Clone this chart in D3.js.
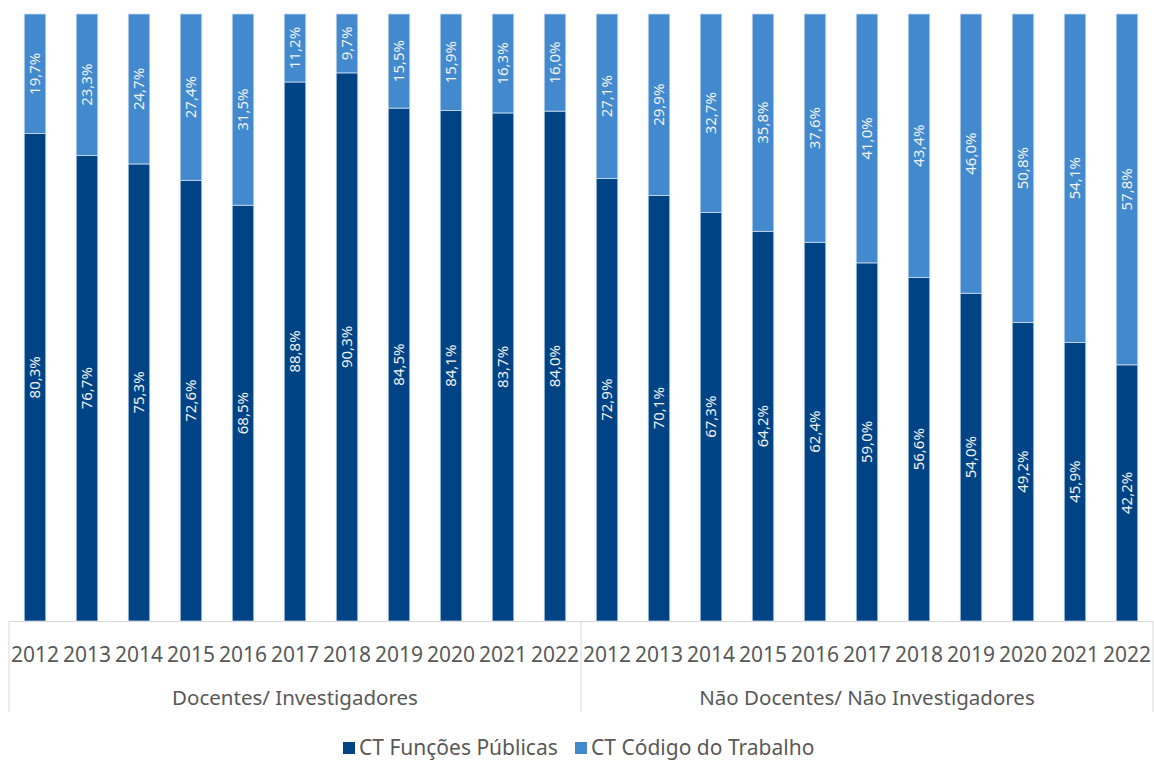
<!DOCTYPE html>
<html>
<head>
<meta charset="utf-8">
<script src="https://cdn.jsdelivr.net/npm/d3@7"></script>
<style>
  body { margin: 0; background: #fff; }
  svg { display: block; font-family: 'Noto Sans', sans-serif; }
</style>
</head>
<body>
<script>
// data
var years = ['2012', '2013', '2014', '2015', '2016', '2017', '2018', '2019', '2020', '2021', '2022']
var groups = ['Docentes/ Investigadores', 'Não Docentes/ Não Investigadores']
var seriesNames = ['CT Funções Públicas', 'CT Código do Trabalho']
var funcoesPublicas = [80.3, 76.7, 75.3, 72.6, 68.5, 88.8, 90.3, 84.5, 84.1, 83.7, 84.0,
  72.9, 70.1, 67.3, 64.2, 62.4, 59.0, 56.6, 54.0, 49.2, 45.9, 42.2]
var codigoTrabalho = [19.7, 23.3, 24.7, 27.4, 31.5, 11.2, 9.7, 15.5, 15.9, 16.3, 16.0,
  27.1, 29.9, 32.7, 35.8, 37.6, 41.0, 43.4, 46.0, 50.8, 54.1, 57.8]

var colors = ['#004485', '#4389cd']

var W = 1154
var H = 761
var plotLeft = 9
var plotRight = 1153
var plotTop = 14
var plotBottom = 621

// one row per bar
var rows = []
groups.forEach(function (g, gi) {
  years.forEach(function (yr, yi) {
    var i = gi * years.length + yi
    rows.push({ key: g + '|' + yr, group: g, year: yr, fp: funcoesPublicas[i], ct: codigoTrabalho[i] })
  })
})

var x = d3.scaleBand()
  .domain(rows.map(function (d) { return d.key }))
  .range([plotLeft, plotRight])
  .paddingInner(0.585)
  .paddingOuter(0.2925)

var y = d3.scaleLinear().domain([0, 100]).range([plotBottom, plotTop])

var svg = d3.select('body').append('svg')
  .attr('width', W)
  .attr('height', H)

var stack = d3.stack().keys(['fp', 'ct'])(rows)

var layer = svg.selectAll('g.layer')
  .data(stack)
  .enter().append('g')
  .attr('class', 'layer')
  .attr('fill', function (d, i) { return colors[i] })

layer.selectAll('rect')
  .data(function (d) { return d })
  .enter().append('rect')
  .attr('x', function (d) { return x(d.data.key) })
  .attr('width', x.bandwidth())
  .attr('y', function (d) { return y(d[1]) })
  .attr('height', function (d) { return y(d[0]) - y(d[1]) })
  .attr('stroke', '#c9dcf0')
  .attr('stroke-width', 0.8)

// data labels, rotated
layer.selectAll('text')
  .data(function (d) { return d })
  .enter().append('text')
  .attr('transform', function (d) {
    var cx = x(d.data.key) + x.bandwidth() / 2
    var cy = (y(d[0]) + y(d[1])) / 2
    return 'translate(' + cx + ',' + cy + ') rotate(-90)'
  })
  .attr('text-anchor', 'middle')
  .attr('dy', '0.35em')
  .attr('fill', '#f0f0f0')
  .style('font-size', '15px')
  .text(function (d) { return (d[1] - d[0]).toFixed(1).replace('.', ',') + '%' })

// axis
var axisColor = '#d9d9d9'
svg.append('line')
  .attr('x1', plotLeft).attr('x2', plotRight)
  .attr('y1', plotBottom + 0.5).attr('y2', plotBottom + 0.5)
  .attr('stroke', axisColor)

var step = x.step()
var groupEdges = [plotLeft, plotLeft + step * years.length, plotRight]
svg.selectAll('line.sep')
  .data(groupEdges)
  .enter().append('line')
  .attr('class', 'sep')
  .attr('x1', function (d) { return d }).attr('x2', function (d) { return d })
  .attr('y1', plotBottom).attr('y2', 712)
  .attr('stroke', axisColor)

svg.selectAll('text.year')
  .data(rows)
  .enter().append('text')
  .attr('class', 'year')
  .attr('x', function (d) { return x(d.key) + x.bandwidth() / 2 })
  .attr('y', 662)
  .attr('text-anchor', 'middle')
  .attr('fill', '#595959')
  .style('font-size', '21px')
  .text(function (d) { return d.year })

svg.selectAll('text.group')
  .data(groups)
  .enter().append('text')
  .attr('class', 'group')
  .attr('x', function (d, i) { return (groupEdges[i] + groupEdges[i + 1]) / 2 })
  .attr('y', 705)
  .attr('text-anchor', 'middle')
  .attr('fill', '#595959')
  .style('font-size', '20.5px')
  .text(function (d) { return d })

// legend
var legendX = [343, 575]
var legend = svg.selectAll('g.legend')
  .data(seriesNames)
  .enter().append('g')
  .attr('class', 'legend')
  .attr('transform', function (d, i) { return 'translate(' + legendX[i] + ',748)' })

legend.append('rect')
  .attr('x', 0).attr('y', -6)
  .attr('width', 12).attr('height', 12)
  .attr('fill', function (d, i) { return colors[i] })

legend.append('text')
  .attr('x', 16)
  .attr('dy', '0.35em')
  .attr('fill', '#595959')
  .style('font-size', '21px')
  .text(function (d) { return d })
</script>
</body>
</html>
